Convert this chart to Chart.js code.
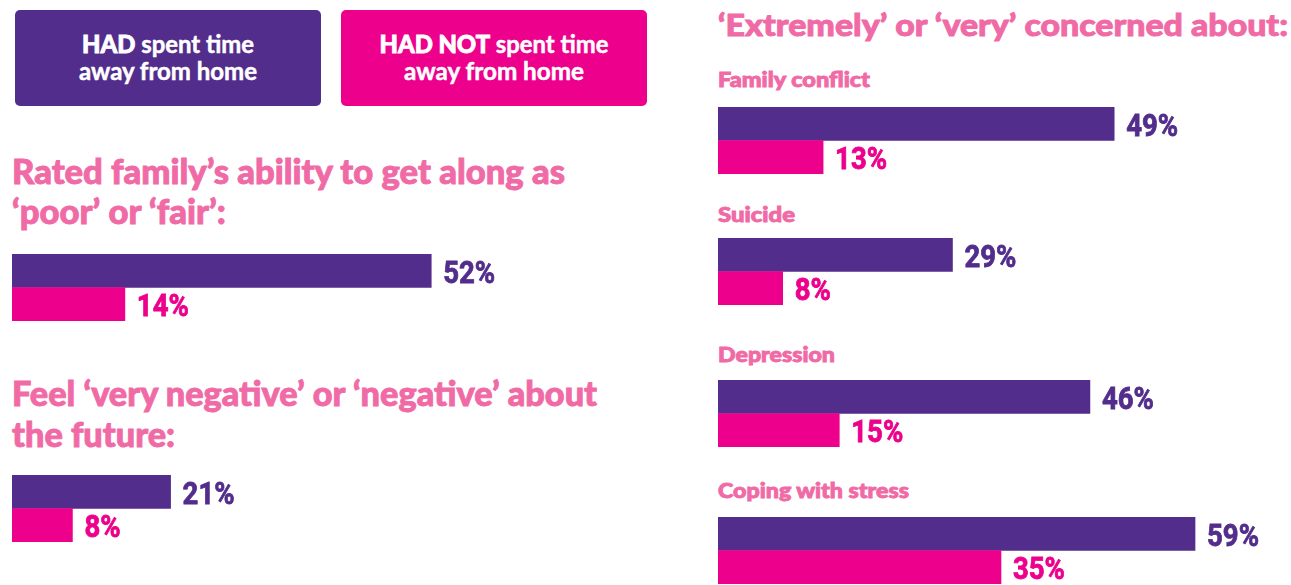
<!DOCTYPE html>
<html><head><meta charset="utf-8">
<script src="https://cdn.jsdelivr.net/npm/chart.js@4.4.1/dist/chart.umd.min.js"></script>
<style>
html,body{margin:0;padding:0;background:#fff;}
body{width:1291px;height:585px;overflow:hidden;position:relative;font-family:Lato,"Open Sans",sans-serif;}
.t{position:absolute;white-space:nowrap;width:max-content;color:#F06AA6;font-weight:900;transform-origin:0 0;line-height:1.2;-webkit-text-stroke:0.9px #F06AA6;}
.box{position:absolute;top:10px;width:306px;height:96px;border-radius:5px;}
.bl{position:absolute;left:50%;width:max-content;color:#fff;font-weight:700;font-size:25px;line-height:1.2;white-space:nowrap;transform-origin:50% 0;-webkit-text-stroke:0.5px #fff;}
.bl b{font-weight:900;-webkit-text-stroke:0.9px #fff;}
canvas{position:absolute;display:block;}
</style></head><body>
<script>
// ---------------- data ----------------
const groupKeys = ['HAD', 'HAD NOT'];
const groupRest = ['spent time', 'away from home'];
const leftTitles = [
  ['Rated family’s ability to get along as', '‘poor’ or ‘fair’:'],
  ['Feel ‘very negative’ or ‘negative’ about', 'the future:']
];
const leftHad = [52, 21];
const leftHadNot = [14, 8];
const rightTitle = '‘Extremely’ or ‘very’ concerned about:';
const concerns = ['Family conflict', 'Suicide', 'Depression', 'Coping with stress'];
const concernHad = [49, 29, 46, 59];
const concernHadNot = [13, 8, 15, 35];

// ---------------- style / layout ----------------
const PURPLE = '#522D8B', MAGENTA = '#EC008C';
const COLORS = [PURPLE, MAGENTA];
const LABEL_FONT = 'bold 31px Roboto,"Liberation Sans",sans-serif';
const LABEL_REF_TEXT = '52%', LABEL_REF_W = 52;

const legendLayout = [
  {left: 15, lines: [172, 178]},
  {left: 341, lines: [229, 180]}
];
const leftLayout = [
  {title: {x: 12, top: 149.5, fs: 35, lh: 40, fit: 553}, chart: {x: 12, y: 254, w: 620, h: 67, max: 76.9}},
  {title: {x: 12, top: 371.5, fs: 35, lh: 41, fit: 585}, chart: {x: 12, y: 475, w: 620, h: 67, max: 82.1}}
];
const rightTitleLayout = {x: 718, top: 5.5, fs: 31, fit: 570};
const rightLayout = [
  {label: {top: 66.3, fit: 152}, chart: {y: 107}},
  {label: {top: 201.3, fit: 77}, chart: {y: 238}},
  {label: {top: 341.3, fit: 117}, chart: {y: 380}},
  {label: {top: 477.3, fit: 191}, chart: {y: 517}}
];
const RIGHT_X = 718, RIGHT_W = 570, RIGHT_H = 67, RIGHT_MAX = 70.5, SUB_FS = 21;

const fitList = [];
function addText(html, css, fit) {
  const d = document.createElement('div');
  d.className = 't';
  d.innerHTML = html;
  Object.assign(d.style, css);
  document.body.appendChild(d);
  fitList.push({el: d, fit: fit, center: false});
  return d;
}

// legend boxes
legendLayout.forEach((L, i) => {
  const box = document.createElement('div');
  box.className = 'box';
  box.style.left = L.left + 'px';
  box.style.background = COLORS[i];
  document.body.appendChild(box);
  const lineTexts = ['<b>' + groupKeys[i] + '</b> ' + groupRest[0], groupRest[1]];
  [17.5, 45].forEach((top, j) => {
    const s = document.createElement('div');
    s.className = 'bl';
    s.innerHTML = lineTexts[j];
    s.style.top = top + 'px';
    box.appendChild(s);
    fitList.push({el: s, fit: L.lines[j], center: true});
  });
});

// value label plugin (condensed bold numbers)
const valueLabels = {
  id: 'valueLabels',
  afterDatasetsDraw(chart) {
    const ctx = chart.ctx, ds = chart.data.datasets[0];
    ctx.save();
    ctx.font = LABEL_FONT;
    ctx.textBaseline = 'alphabetic';
    ctx.textAlign = 'left';
    const sx = LABEL_REF_W / ctx.measureText(LABEL_REF_TEXT).width;
    chart.getDatasetMeta(0).data.forEach((bar, i) => {
      ctx.save();
      ctx.fillStyle = ds.backgroundColor[i];
      ctx.strokeStyle = ds.backgroundColor[i];
      ctx.lineWidth = 0.8;
      ctx.translate(bar.x + 12, bar.y + 12);
      ctx.scale(sx, 1);
      ctx.fillText(ds.data[i] + '%', 0, 0);
      ctx.strokeText(ds.data[i] + '%', 0, 0);
      ctx.restore();
    });
    ctx.restore();
  }
};

function makeChart(x, y, w, h, values, max) {
  const c = document.createElement('canvas');
  c.width = w; c.height = h;
  c.style.left = x + 'px'; c.style.top = y + 'px';
  c.style.width = w + 'px'; c.style.height = h + 'px';
  document.body.appendChild(c);
  new Chart(c, {
    type: 'bar',
    data: {
      labels: groupKeys,
      datasets: [{data: values, backgroundColor: COLORS, borderWidth: 0,
                  categoryPercentage: 1, barPercentage: 1}]
    },
    options: {
      indexAxis: 'y', responsive: false, animation: false, events: [],
      devicePixelRatio: 1,
      layout: {padding: 0},
      scales: {x: {display: false, min: 0, max: max}, y: {display: false}},
      plugins: {legend: {display: false}, tooltip: {enabled: false}}
    },
    plugins: [valueLabels]
  });
}

// left panel
leftLayout.forEach((L, i) => {
  addText(leftTitles[i].join('<br>'), {left: L.title.x + 'px', top: L.title.top + 'px',
    fontSize: L.title.fs + 'px', lineHeight: L.title.lh + 'px'}, L.title.fit);
  makeChart(L.chart.x, L.chart.y, L.chart.w, L.chart.h, [leftHad[i], leftHadNot[i]], L.chart.max);
});

// right panel
addText(rightTitle, {left: rightTitleLayout.x + 'px', top: rightTitleLayout.top + 'px',
  fontSize: rightTitleLayout.fs + 'px'}, rightTitleLayout.fit);
rightLayout.forEach((L, i) => {
  addText(concerns[i], {left: RIGHT_X + 'px', top: L.label.top + 'px', fontSize: SUB_FS + 'px'}, L.label.fit);
  makeChart(RIGHT_X, L.chart.y, RIGHT_W, RIGHT_H, [concernHad[i], concernHadNot[i]], RIGHT_MAX);
});

function fitAll() {
  fitList.forEach(f => {
    f.el.style.transform = 'none';
    const w = f.el.getBoundingClientRect().width;
    const s = f.fit / w;
    f.el.style.transform = f.center ? 'translateX(-50%) scaleX(' + s + ')' : 'scaleX(' + s + ')';
  });
}
fitAll();
if (document.fonts && document.fonts.ready) document.fonts.ready.then(fitAll);
</script>
</body></html>
